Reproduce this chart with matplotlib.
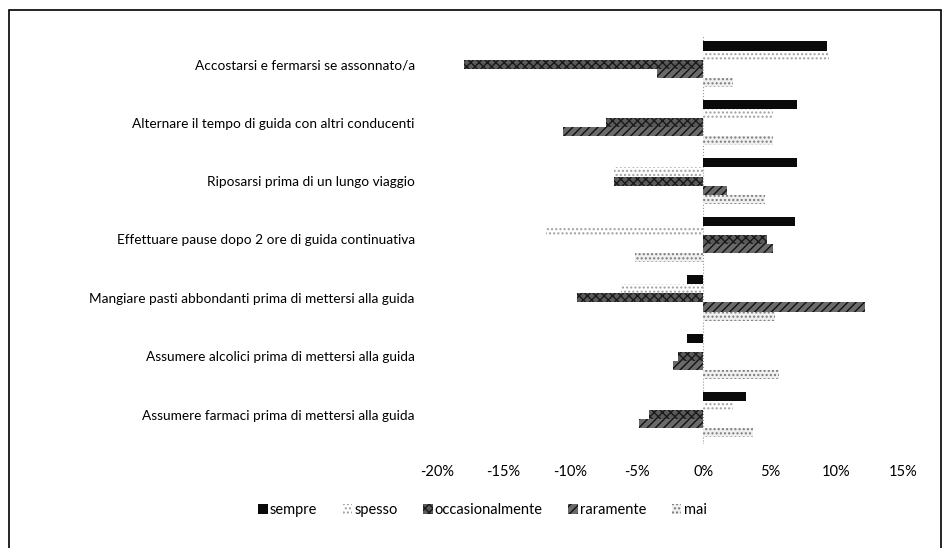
import matplotlib.pyplot as plt
from matplotlib.patches import Rectangle
import numpy as np

plt.rcParams['font.family'] = ['Lato', 'DejaVu Sans']

categories = [
    "Accostarsi e fermarsi se assonnato/a",
    "Alternare il tempo di guida con altri conducenti",
    "Riposarsi prima di un lungo viaggio",
    "Effettuare pause dopo 2 ore di guida continuativa",
    "Mangiare pasti abbondanti prima di mettersi alla guida",
    "Assumere alcolici prima di mettersi alla guida",
    "Assumere farmaci prima di mettersi alla guida",
]
series_names = ["sempre", "spesso", "occasionalmente", "raramente", "mai"]
sempre = [9.3, 7.0, 7.05, 6.85, -1.2, -1.2, 3.2]
spesso = [9.45, 5.25, -6.75, -11.8, -6.2, 0.0, 2.25]
occasionalmente = [-18.0, -7.35, -6.75, 4.8, -9.5, -1.9, -4.1]
raramente = [-3.45, -10.55, 1.8, 5.2, 12.15, -2.3, -4.8]
mai = [2.25, 5.2, 4.65, -5.1, 5.4, 5.7, 3.75]
xticks = [-20, -15, -10, -5, 0, 5, 10, 15]
xtick_labels = ["-20%", "-15%", "-10%", "-5%", "0%", "5%", "10%", "15%"]

series = [sempre, spesso, occasionalmente, raramente, mai]
styles = [
    dict(facecolor="#0a0a0a", edgecolor="#0a0a0a", hatch=None),
    dict(facecolor="white", edgecolor="#a0a0a0", hatch="...."),
    dict(facecolor="#5a5a5a", edgecolor="#1a1a1a", hatch="xxxx"),
    dict(facecolor="#6a6a6a", edgecolor="#111111", hatch="////"),
    dict(facecolor="#f0f0f0", edgecolor="#7a7a7a", hatch="...."),
]

fig = plt.figure(figsize=(9.42, 5.48), dpi=100)
ax = fig.add_axes([0.464, 0.19, 0.4947, 0.746])

y = np.arange(len(categories))
h = 0.156
for i, (vals, name, st) in enumerate(zip(series, series_names, styles)):
    ax.barh(y + (i - 2) * h, vals, height=h, label=name,
            linewidth=0, **st)

ax.axvline(0, color="#999999", lw=0.8, ls=":", zorder=0)
ax.set_xlim(-20, 15)
ax.set_ylim(len(categories) - 0.5, -0.5)
ax.set_xticks(xticks)
ax.set_xticklabels(xtick_labels, fontsize=10.5)
ax.set_yticks(y)
ax.set_yticklabels(categories, fontsize=9.8)
ax.tick_params(axis="x", length=0, pad=15)
ax.tick_params(axis="y", length=0, pad=16)
for s in ax.spines.values():
    s.set_visible(False)

ax.legend(loc="center", bbox_to_anchor=(0.512, 0.069), bbox_transform=fig.transFigure,
          ncol=5, frameon=False, fontsize=10.5, handlelength=0.65, handleheight=0.65,
          handletextpad=0.15, columnspacing=1.75)

fig.patches.append(Rectangle((0.0095, -0.02), 0.989, 1.002, transform=fig.transFigure,
                             fill=False, edgecolor="black", linewidth=1.2))

fig.savefig("out.png", dpi=100)
